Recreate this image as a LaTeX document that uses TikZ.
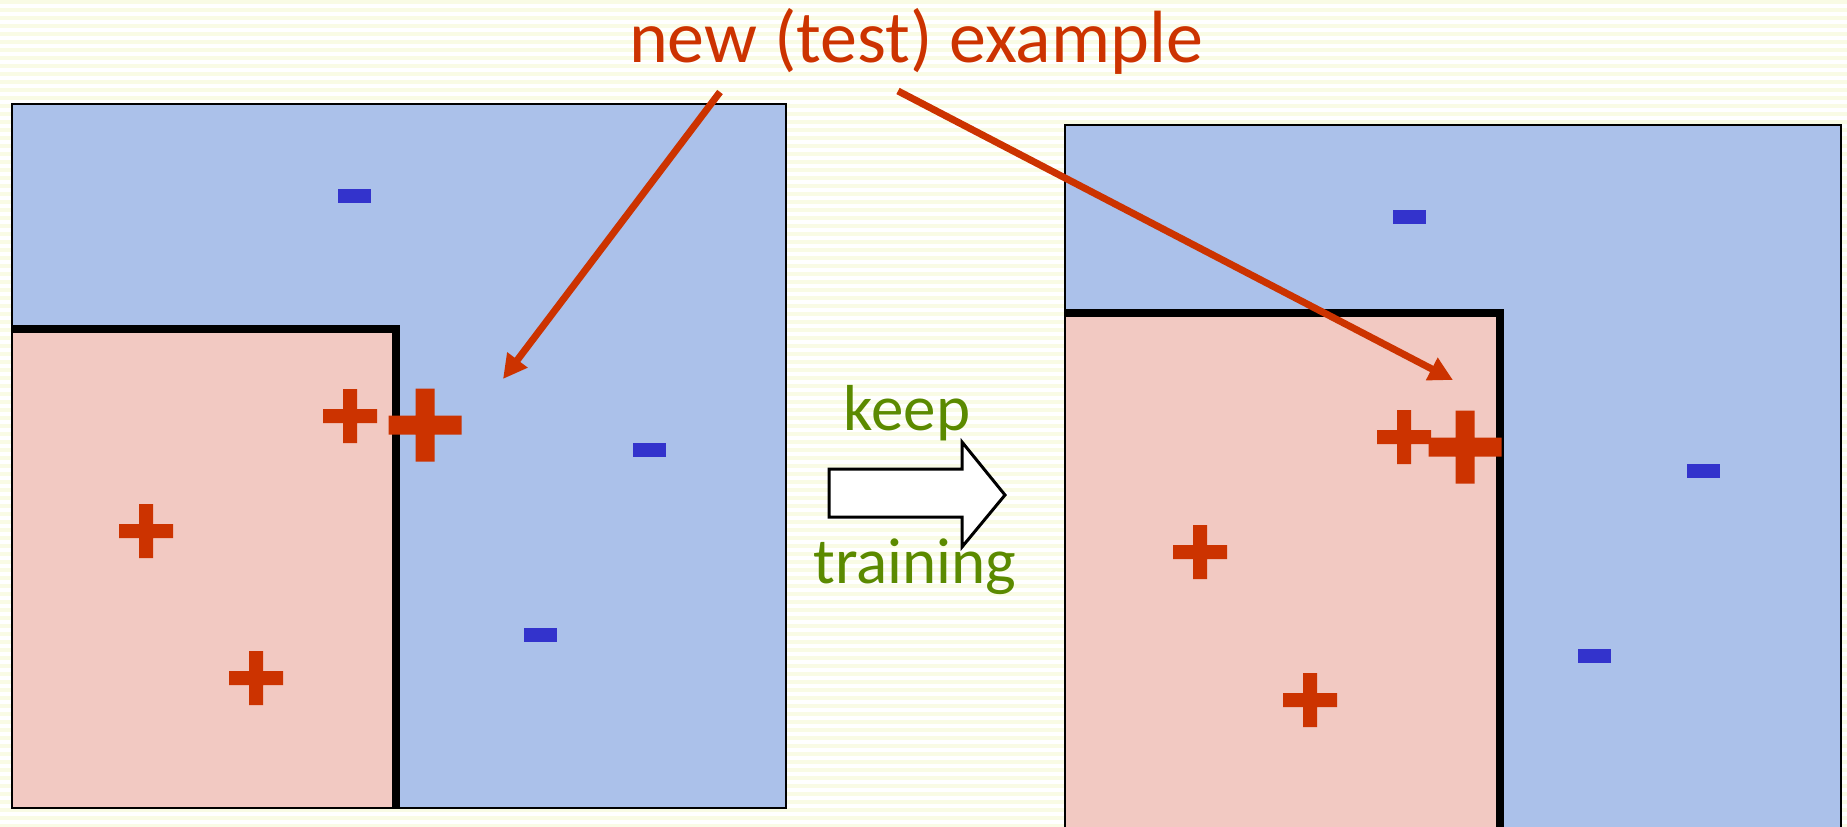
\documentclass[tikz,border=0pt]{standalone}
\usepackage{fontspec}
\setmainfont{Carlito}
\usetikzlibrary{arrows.meta,positioning}
\definecolor{stripe}{RGB}{249,251,229}
\definecolor{regionblue}{RGB}{171,193,234}
\definecolor{regionpink}{RGB}{242,201,194}
\definecolor{markred}{RGB}{204,51,0}
\definecolor{markblue}{RGB}{51,51,204}
\definecolor{keepgreen}{RGB}{91,138,0}
\tikzset{
  plusmark/.pic={\fill[markred] (-27,-7) rectangle (27,7) (-7,-27) rectangle (7,27);},
  bigplusmark/.pic={\fill[markred] (-36.5,-9.5) rectangle (36.5,9.5) (-9.5,-36.5) rectangle (9.5,36.5);}
}
\begin{document}
\begin{tikzpicture}[x=1pt,y=-1pt,>=Stealth]
\tikzstyle{minusmark}=[fill=markblue,minimum width=33pt,minimum height=14pt,inner sep=0pt]
\tikzstyle{region}=[draw=black,line width=2pt,fill=regionblue]
\tikzstyle{border}=[line width=8pt]
\tikzstyle{pointer}=[-{Triangle[length=24pt,width=24pt]},markred,line width=7pt]
\tikzstyle{lbl}=[font=\fontsize{65}{70}\selectfont,text=keepgreen,anchor=base,inner sep=0pt]
\useasboundingbox (0,0) rectangle (1847,827);
\clip (0,0) rectangle (1847,827);
% striped background
\fill[white] (0,0) rectangle (1847,827);
\foreach \y in {0,8,...,824} \fill[stripe] (0,\y) rectangle (1847,\y+4);
% left panel
\draw[region] (12,104) rectangle (786,808);
\fill[regionpink] (13,329) rectangle (396,807);
\draw[border] (12,329) -| (396,808);
\node[minusmark] (m1) at (354,196) {};
\node[minusmark] (m2) at (649,450) {};
\node[minusmark] (m3) at (540,635) {};
\pic at (350,416) {plusmark};
\pic at (146,531) {plusmark};
\pic at (256,678) {plusmark};
\pic at (425,425) {bigplusmark};
% right panel
\draw[region] (1065,125) rectangle (1841,840);
\fill[regionpink] (1066,313) rectangle (1500,840);
\draw[border] (1065,313) -| (1500,840);
\node[minusmark] (m4) at (1409,217) {};
\node[minusmark] (m5) at (1703,471) {};
\node[minusmark] (m6) at (1594,656) {};
\pic at (1404,437) {plusmark};
\pic at (1200,552) {plusmark};
\pic at (1310,700) {plusmark};
\pic at (1465,447) {bigplusmark};
% keep training
\draw[line width=3pt,fill=white,line join=miter] (829,469) -- (962,469) -- (962,442) -- (1005,495) -- (962,547) -- (962,517) -- (829,517) -- cycle;
\node[lbl] (keep) at (907,430) {keep};
\node[lbl] (training) at (915,583) {training};
% new example
\node[font=\fontsize{74}{80}\selectfont,text=markred,anchor=base,inner sep=0pt] (title) at (916,62) {new (test) example};
\coordinate (from1) at (720,92);
\coordinate (to1) at (503,379);
\coordinate (from2) at (898,91);
\coordinate (to2) at (1453,380);
\draw[pointer] (from1) -- (to1);
\draw[pointer] (from2) -- (to2);
\end{tikzpicture}
\end{document}
